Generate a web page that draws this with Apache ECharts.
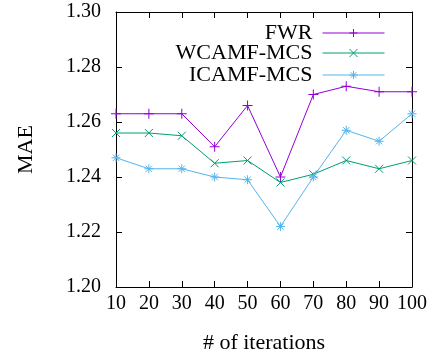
<!DOCTYPE html>
<html>
<head>
<meta charset="utf-8">
<script src="https://cdn.jsdelivr.net/npm/echarts@6/dist/echarts.min.js"></script>
<style>
  html, body { margin: 0; padding: 0; background: #fff; }
  #chart { width: 434px; height: 362px; }
</style>
</head>
<body>
<div id="chart"></div>
<script>
const iterations = ["10", "20", "30", "40", "50", "60", "70", "80", "90", "100"];
const fwr = [1.263, 1.263, 1.263, 1.251, 1.266, 1.240, 1.270, 1.273, 1.271, 1.271];
const wcamf = [1.256, 1.256, 1.255, 1.245, 1.246, 1.238, 1.241, 1.246, 1.243, 1.246];
const icamf = [1.247, 1.243, 1.243, 1.240, 1.239, 1.222, 1.240, 1.257, 1.253, 1.263];

const FONT = "Liberation Serif";
const FS = 22;      // legend and axis titles
const TICK_FS = 20; // tick labels
const plus = "path://M0,5L10,5M5,0L5,10";
const cross = "path://M0,0L10,10M10,0L0,10";
const star = "path://M0,5L10,5M5,0L5,10M1.5,1.5L8.5,8.5M8.5,1.5L1.5,8.5";

const seriesDefs = [
  { name: "FWR", data: fwr, color: "#9400d3", symbol: plus, size: 10 },
  { name: "WCAMF-MCS", data: wcamf, color: "#009e73", symbol: cross, size: 8 },
  { name: "ICAMF-MCS", data: icamf, color: "#56b4e9", symbol: star, size: 9 }
];

const chart = echarts.init(document.getElementById("chart"));

const legendTops = [22, 42, 64];

chart.setOption({
  animation: false,
  backgroundColor: "#fff",
  textStyle: { fontFamily: FONT },
  legend: seriesDefs.map((s, i) => ({
    data: [s.name],
    right: 49,
    top: legendTops[i],
    padding: 0,
    align: "right",
    itemWidth: 62,
    itemHeight: 10,
    lineStyle: { width: 1 },
    itemStyle: { borderWidth: 1 },
    textStyle: { fontFamily: FONT, fontSize: FS, color: "#000", padding: [0, 5, 0, 0] }
  })),
  grid: { left: 116, right: 22, top: 12, bottom: 75 },
  xAxis: [
    {
      type: "category",
      data: iterations,
      boundaryGap: false,
      name: "# of iterations",
      nameLocation: "middle",
      nameGap: 45,
      nameTextStyle: { fontFamily: FONT, fontSize: FS, color: "#000" },
      axisLine: { lineStyle: { color: "#000", width: 1 } },
      axisTick: { inside: true, length: 6, lineStyle: { color: "#000" } },
      axisLabel: { interval: 0, fontFamily: FONT, fontSize: TICK_FS, color: "#000", margin: 7 },
      splitLine: { show: false }
    },
    {
      type: "category",
      data: iterations,
      boundaryGap: false,
      position: "top",
      axisLine: { lineStyle: { color: "#000", width: 1 } },
      axisTick: { inside: true, length: 6, lineStyle: { color: "#000" } },
      axisLabel: { show: false },
      splitLine: { show: false }
    }
  ],
  yAxis: [
    {
      type: "value",
      min: 1.20,
      max: 1.30,
      interval: 0.02,
      name: "MAE",
      nameLocation: "middle",
      nameGap: 79,
      nameTextStyle: { fontFamily: FONT, fontSize: FS, color: "#000" },
      axisLine: { show: true, lineStyle: { color: "#000", width: 1 } },
      axisTick: { show: true, inside: true, length: 6, lineStyle: { color: "#000" } },
      axisLabel: {
        fontFamily: FONT, fontSize: TICK_FS, color: "#000", margin: 15,
        formatter: (v) => v.toFixed(2)
      },
      splitLine: { show: false }
    },
    {
      type: "value",
      min: 1.20,
      max: 1.30,
      interval: 0.02,
      position: "right",
      axisLine: { show: true, lineStyle: { color: "#000", width: 1 } },
      axisTick: { show: true, inside: true, length: 6, lineStyle: { color: "#000" } },
      axisLabel: { show: false },
      splitLine: { show: false }
    }
  ],
  series: seriesDefs.map((s) => ({
    name: s.name,
    type: "line",
    data: s.data,
    symbol: s.symbol,
    symbolSize: s.size,
    showAllSymbol: true,
    lineStyle: { color: s.color, width: 1 },
    itemStyle: { color: "none", borderColor: s.color, borderWidth: 1 }
  }))
});
</script>
</body>
</html>
